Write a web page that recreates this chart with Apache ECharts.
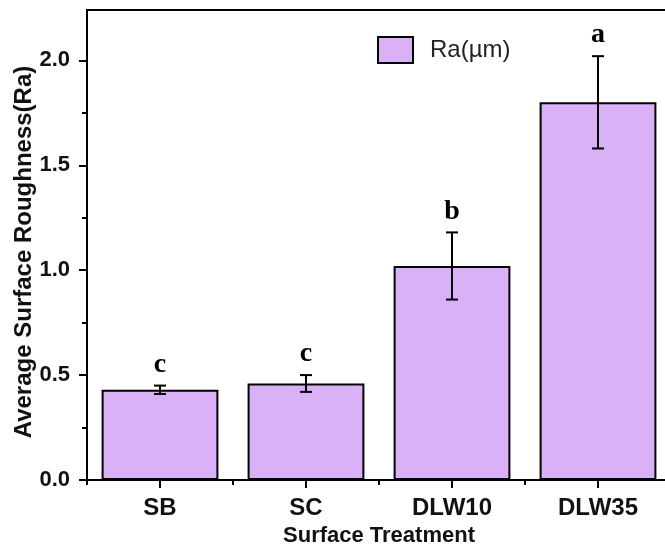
<!DOCTYPE html>
<html>
<head>
<meta charset="utf-8">
<script src="https://cdn.jsdelivr.net/npm/echarts@6/dist/echarts.min.js"></script>
<style>html,body{margin:0;padding:0;background:#fff;}#c{width:665px;height:549px;}</style>
</head>
<body>
<div id="c"></div>
<script>
const categories = ['SB', 'SC', 'DLW10', 'DLW35'];
const raValues = [0.43, 0.46, 1.02, 1.80];
const raErrors = [0.02, 0.04, 0.16, 0.22];
const groupLetters = ['c', 'c', 'b', 'a'];
const yTicks = [0, 0.5, 1.0, 1.5, 2.0];
const yMinorTicks = [0.25, 0.75, 1.25, 1.75];
const seriesName = 'Ra(µm)';

const chart = echarts.init(document.getElementById('c'), null, {renderer: 'canvas'});
const FONT = 'Liberation Sans';
const option = {
  backgroundColor: '#fff',
  animation: false,
  grid: {left: 87, top: 10, width: 584, height: 470, outerBoundsMode: 'none', containLabel: false, show: true, borderColor: '#000', borderWidth: 2, backgroundColor: 'transparent'},
  legend: {
    data: [seriesName],
    left: 372, top: 31,
    itemWidth: 35, itemHeight: 26,
    icon: 'rect',
    itemStyle: {color: '#dab0f6', borderColor: '#000', borderWidth: 2},
    textStyle: {fontFamily: FONT, fontSize: 24, color: '#222', padding: [0, 0, 0, 12]}
  },
  xAxis: [{
    type: 'category', data: categories, position: 'bottom',
    axisLine: {show: true, lineStyle: {color: '#000', width: 2}},
    axisTick: {show: true, alignWithLabel: true, length: 8, lineStyle: {color: '#000', width: 2}},
    axisLabel: {fontFamily: FONT, fontWeight: 'bold', fontSize: 24, color: '#111', margin: 16},
    name: 'Surface Treatment', nameLocation: 'middle', nameGap: 43,
    nameTextStyle: {fontFamily: FONT, fontWeight: 'bold', fontSize: 22, color: '#111'}
  }, {
    type: 'category', data: categories, position: 'bottom',
    axisLine: {show: false}, axisLabel: {show: false},
    axisTick: {show: true, length: 5, lineStyle: {color: '#000', width: 2}}
  }],
  yAxis: [{
    type: 'value', min: 0, max: 2.24, position: 'left',
    splitLine: {show: false},
    axisLine: {show: true, lineStyle: {color: '#000', width: 2}},
    axisTick: {show: true, length: 8, customValues: yTicks, lineStyle: {color: '#000', width: 2}},
    axisLabel: {customValues: yTicks, formatter: v => v.toFixed(1), fontFamily: FONT, fontWeight: 'bold', fontSize: 22, color: '#111', margin: 17},
    name: 'Average Surface Roughness(Ra)', nameLocation: 'middle', nameGap: 51, nameMoveOverlap: false,
    nameTextStyle: {fontFamily: FONT, fontWeight: 'bold', fontSize: 24, color: '#111', padding: [0, 14, 0, 0]}
  }, {
    type: 'value', min: 0, max: 2.24, position: 'left',
    splitLine: {show: false}, axisLine: {show: false}, axisLabel: {show: false},
    axisTick: {show: true, length: 5, customValues: yMinorTicks, lineStyle: {color: '#000', width: 2}}
  }],
  series: [{
    name: seriesName, type: 'bar', data: raValues,
    barCategoryGap: '20%',
    itemStyle: {color: '#dab0f6', borderColor: '#000', borderWidth: 2}
  }, {
    type: 'custom', name: 'err', z: 5,
    data: categories.map((c, i) => [i, raValues[i], raErrors[i]]),
    encode: {x: 0, y: 1},
    renderItem: function (params, api) {
      const i = api.value(0), v = api.value(1), e = api.value(2);
      const top = api.coord([i, v + e]);
      const bot = api.coord([i, v - e]);
      const hw = 6;
      const st = {stroke: '#000', lineWidth: 2};
      return {type: 'group', children: [
        {type: 'line', shape: {x1: top[0], y1: top[1], x2: bot[0], y2: bot[1]}, style: st},
        {type: 'line', shape: {x1: top[0] - hw, y1: top[1], x2: top[0] + hw, y2: top[1]}, style: st},
        {type: 'line', shape: {x1: bot[0] - hw, y1: bot[1], x2: bot[0] + hw, y2: bot[1]}, style: st},
        {type: 'text', style: {text: groupLetters[i], x: top[0], y: top[1] - 7, textAlign: 'center', textVerticalAlign: 'bottom', font: 'bold 28px "Liberation Serif"', fill: '#000'}}
      ]};
    }
  }]
};
chart.setOption(option);
</script>
</body>
</html>
